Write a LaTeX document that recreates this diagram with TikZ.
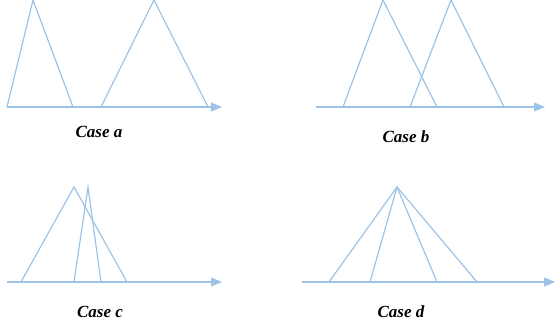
\documentclass[tikz,border=0pt]{standalone}
\usepackage{fontspec}
\setmainfont{Liberation Serif}
\usetikzlibrary{arrows.meta}

\definecolor{lineblue}{RGB}{157,195,230}

\begin{document}
\begin{tikzpicture}[x=1pt, y=-1pt,
    fuzzy/.style={draw=lineblue, line width=1.2pt},
    axis/.style={draw=lineblue, line width=1.2pt, -{Triangle[length=11pt, width=9pt]}},
    caselabel/.style={font=\fontsize{17}{19}\selectfont\bfseries\itshape, inner sep=0pt}]
    \useasboundingbox (0,0) rectangle (555,327);

    % Case a: two separate triangles
    \coordinate (a0) at (7,107);
    \coordinate (a1) at (222,107);
    \draw[axis] (a0) -- (a1);
    \draw[fuzzy] (7,107) -- (33,0) -- (73,107);
    \draw[fuzzy] (101,107) -- (154,0) -- (208,107);
    \node[caselabel] (casea) at (99,132) {Case a};

    % Case b: overlapping triangles
    \coordinate (b0) at (316,107);
    \coordinate (b1) at (545,107);
    \draw[axis] (b0) -- (b1);
    \draw[fuzzy] (343,107) -- (383,0) -- (437,107);
    \draw[fuzzy] (410,107) -- (451,0) -- (504,107);
    \node[caselabel] (caseb) at (406,137) {Case b};

    % Case c: narrow triangle inside a wide one
    \coordinate (c0) at (7,282);
    \coordinate (c1) at (222,282);
    \draw[axis] (c0) -- (c1);
    \draw[fuzzy] (21,282) -- (74,187) -- (127,282);
    \draw[fuzzy] (74,282) -- (88,187) -- (101,282);
    \node[caselabel] (casec) at (100,312) {Case c};

    % Case d: triangles sharing one apex
    \coordinate (d0) at (302,282);
    \coordinate (d1) at (555,282);
    \draw[axis] (d0) -- (d1);
    \coordinate (apex) at (397,187);
    \draw[fuzzy] (329,282) -- (apex) -- (477,282);
    \draw[fuzzy] (370,282) -- (apex) -- (437,282);
    \node[caselabel] (cased) at (401,312) {Case d};
\end{tikzpicture}
\end{document}
